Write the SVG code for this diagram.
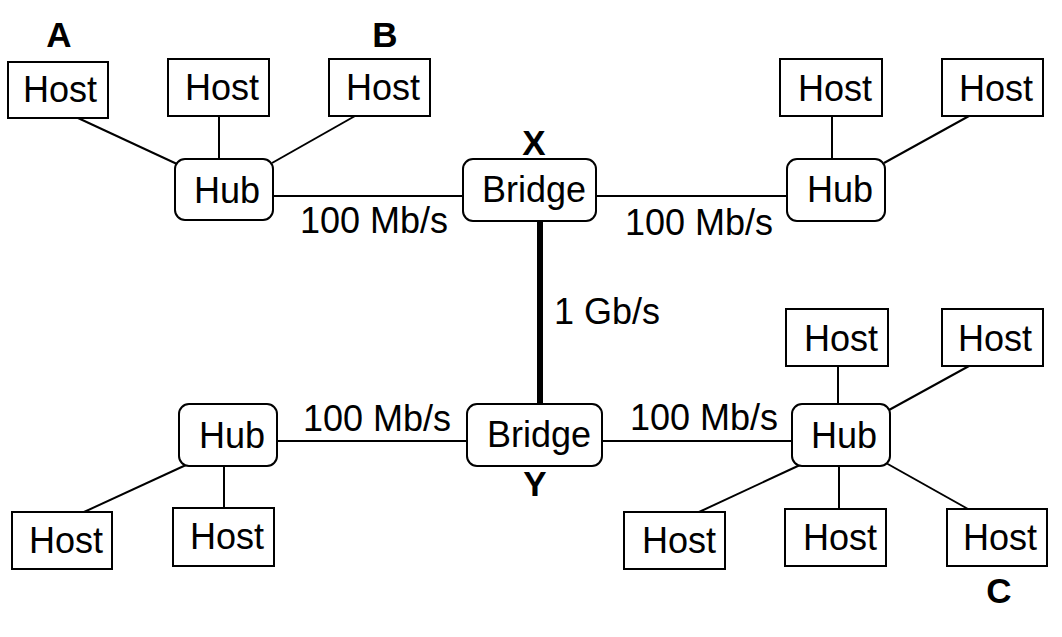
<svg xmlns="http://www.w3.org/2000/svg" width="1062" height="637" viewBox="0 0 1062 637">
<style>
.host{fill:#fff;stroke:#000;stroke-width:2}
.dev{fill:#fff;stroke:#000;stroke-width:2}
.t{font-family:"Liberation Sans",Arial,sans-serif;font-size:36px;fill:#000}
.b{font-family:"Liberation Sans",Arial,sans-serif;font-size:35px;font-weight:bold;fill:#000}
.ln{stroke:#000;stroke-width:2;fill:none}
</style>
<rect width="1062" height="637" fill="#fff"/>
<g id="connectors">
<line class="ln" x1="78" y1="118" x2="177" y2="164"/>
<line class="ln" x1="219" y1="116" x2="219" y2="159"/>
<line class="ln" x1="355" y1="116" x2="272" y2="163"/>
<line class="ln" x1="273" y1="196" x2="463" y2="196"/>
<line class="ln" x1="596" y1="196" x2="788" y2="196"/>
<line class="ln" x1="832" y1="116" x2="832" y2="159"/>
<line class="ln" x1="969" y1="116" x2="884" y2="163"/>
<line x1="540" y1="221" x2="540" y2="404" stroke="#000" stroke-width="6"/>
<line class="ln" x1="277" y1="441" x2="467" y2="441"/>
<line class="ln" x1="602" y1="441" x2="792" y2="441"/>
<line class="ln" x1="84" y1="512" x2="186" y2="465"/>
<line class="ln" x1="224" y1="466" x2="224" y2="508"/>
<line class="ln" x1="838" y1="366" x2="838" y2="404"/>
<line class="ln" x1="969" y1="366" x2="889" y2="410"/>
<line class="ln" x1="699" y1="512" x2="800" y2="465"/>
<line class="ln" x1="839" y1="466" x2="839" y2="509"/>
<line class="ln" x1="968" y1="509" x2="886" y2="463"/>
<text class="t" x="300" y="233">100 Mb/s</text>
<text class="t" x="625" y="235">100 Mb/s</text>
<text class="t" x="554" y="324">1 Gb/s</text>
<text class="t" x="303" y="431">100 Mb/s</text>
<text class="t" x="630" y="430">100 Mb/s</text>
</g>
<g id="hostA"><rect class="host" x="8" y="62" width="100" height="56"/><text class="t" x="23" y="102">Host</text></g>
<g id="host2"><rect class="host" x="168" y="59" width="101" height="57"/><text class="t" x="185" y="100">Host</text></g>
<g id="hostB"><rect class="host" x="329" y="59" width="101" height="57"/><text class="t" x="346" y="100">Host</text></g>
<g id="hub1"><rect class="dev" x="175" y="159" width="98" height="61" rx="10"/><text class="t" x="194" y="203">Hub</text></g>
<g id="bridgeX"><rect class="dev" x="463" y="159" width="133" height="62" rx="10"/><text class="t" x="482" y="202">Bridge</text></g>
<g id="hub2"><rect class="dev" x="787" y="159" width="98" height="62" rx="10"/><text class="t" x="807" y="202">Hub</text></g>
<g id="host4"><rect class="host" x="780" y="59" width="102" height="57"/><text class="t" x="798" y="101">Host</text></g>
<g id="host5"><rect class="host" x="942" y="59" width="101" height="57"/><text class="t" x="959" y="101">Host</text></g>
<g id="hub3"><rect class="dev" x="179" y="404" width="98" height="62" rx="10"/><text class="t" x="199" y="448">Hub</text></g>
<g id="bridgeY"><rect class="dev" x="467" y="404" width="135" height="62" rx="10"/><text class="t" x="487" y="447">Bridge</text></g>
<g id="hub4"><rect class="dev" x="792" y="404" width="98" height="62" rx="10"/><text class="t" x="811" y="448">Hub</text></g>
<g id="host6"><rect class="host" x="12" y="512" width="100" height="57"/><text class="t" x="29" y="553">Host</text></g>
<g id="host7"><rect class="host" x="173" y="508" width="101" height="58"/><text class="t" x="190" y="549">Host</text></g>
<g id="host8"><rect class="host" x="786" y="309" width="102" height="57"/><text class="t" x="804" y="351">Host</text></g>
<g id="host9"><rect class="host" x="942" y="309" width="101" height="57"/><text class="t" x="958" y="351">Host</text></g>
<g id="host10"><rect class="host" x="624" y="512" width="101" height="57"/><text class="t" x="642" y="553">Host</text></g>
<g id="host11"><rect class="host" x="785" y="509" width="101" height="57"/><text class="t" x="803" y="550">Host</text></g>
<g id="hostC"><rect class="host" x="947" y="509" width="100" height="57"/><text class="t" x="963" y="550">Host</text></g>
<g id="labels">
<text class="b" x="59" y="47" text-anchor="middle">A</text>
<text class="b" x="385" y="47" text-anchor="middle">B</text>
<text class="b" x="534" y="155" text-anchor="middle">X</text>
<text class="b" x="535" y="496" text-anchor="middle">Y</text>
<text class="b" x="999" y="603" text-anchor="middle">C</text>
</g>
</svg>
